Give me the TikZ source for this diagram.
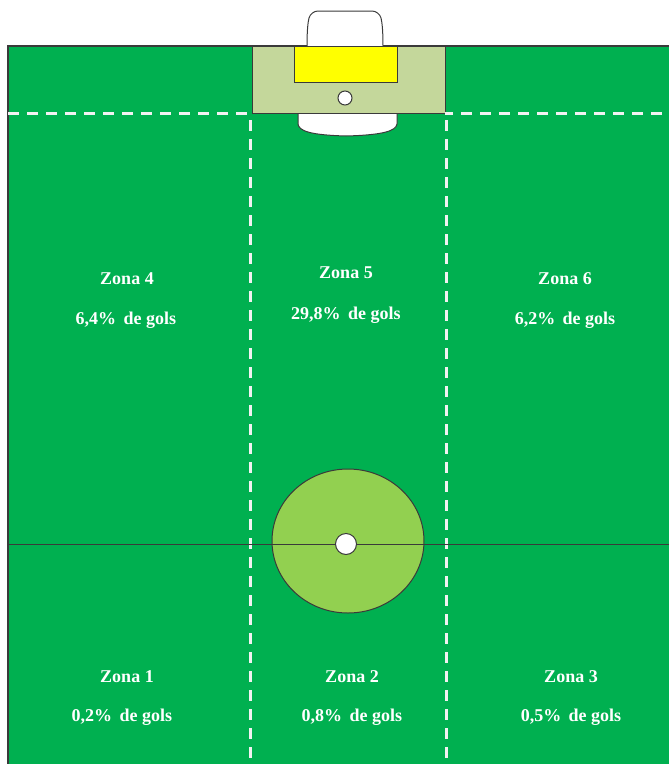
\documentclass[tikz,border=0pt]{standalone}
\usepackage{fontspec}
\usetikzlibrary{shapes.geometric}
\setmainfont{Liberation Serif}
\definecolor{field}{HTML}{00B050}
\definecolor{circ}{HTML}{92D050}
\definecolor{area}{HTML}{C4D79B}
\definecolor{goaly}{HTML}{FFFF00}
\definecolor{edge}{HTML}{3A3A3A}
\definecolor{dashc}{HTML}{F2F2F2}
\begin{document}
\begin{tikzpicture}[x=1pt,y=-1pt,
  outl/.style={draw=edge,line width=1pt},
  dashl/.style={draw=dashc,line width=3pt,dash pattern=on 11pt off 8pt},
  lbl/.style={text=white,font=\fontsize{18}{21}\selectfont\bfseries,inner sep=0pt}]
\useasboundingbox (0,0) rectangle (669,764);
% field
\fill[field] (8,46) rectangle (669,764);
\draw[edge,line width=1.2pt] (8,764) -- (8,46) -- (669,46);
% goal box above
\draw[outl,fill=white] (307,46) .. controls (307,30) and (308,22) .. (309,18) [rounded corners=7pt] -- (311,11) -- (379,11) [sharp corners] -- (381,18) .. controls (382,22) and (383,30) .. (383,46);
% white shape below area
\draw[outl,fill=white] (298,113) -- (298,124) .. controls (299,131) and (310,135) .. (346,136) .. controls (383,135) and (396,131) .. (397,124) -- (397,113);
% goal area
\draw[outl,fill=area] (252,46) rectangle (445,113);
\draw[outl,fill=goaly] (294,46) rectangle (397,82);
\node[circle,outl,fill=white,minimum size=14pt,inner sep=0pt] (spot) at (345,98) {};
% dashed lines
\coordinate (hl1) at (8,113); \coordinate (hl2) at (252,113);
\coordinate (hr1) at (445,113); \coordinate (hr2) at (669,113);
\draw[dashl] (hl1) -- (hl2);
\draw[dashl,dash phase=3pt] (hr1) -- (hr2);
\coordinate (v1t) at (250,120); \coordinate (v1b) at (250,764);
\coordinate (v2t) at (446,120); \coordinate (v2b) at (446,764);
\draw[dashl] (v1t) -- (v1b);
\draw[dashl] (v2t) -- (v2b);
% centre circle
\node[ellipse,outl,fill=circ,minimum width=152pt,minimum height=144pt,inner sep=0pt] (cc) at (348,541) {};
\coordinate (ml) at (8,544); \coordinate (mr) at (669,544);
\draw[edge,line width=0.9pt] (ml) -- (mr);
\node[circle,outl,fill=white,minimum size=21pt,inner sep=0pt] (cs) at (346,544) {};
% labels
\node[lbl] (z4) at (127,279) {Zona 4};
\node[lbl] (p4) at (126,320) {6,4\%\hspace{3pt} de gols};
\node[lbl] (z5) at (346,273) {Zona 5};
\node[lbl] (p5) at (346,315) {29,8\%\hspace{3pt} de gols};
\node[lbl] (z6) at (565,279) {Zona 6};
\node[lbl] (p6) at (565,320) {6,2\%\hspace{3pt} de gols};
\node[lbl] (z1) at (127,677) {Zona 1};
\node[lbl] (p1) at (122,717) {0,2\%\hspace{3pt} de gols};
\node[lbl] (z2) at (352,677) {Zona 2};
\node[lbl] (p2) at (352,717) {0,8\%\hspace{3pt} de gols};
\node[lbl] (z3) at (571,677) {Zona 3};
\node[lbl] (p3) at (571,717) {0,5\%\hspace{3pt} de gols};
\end{tikzpicture}
\end{document}
